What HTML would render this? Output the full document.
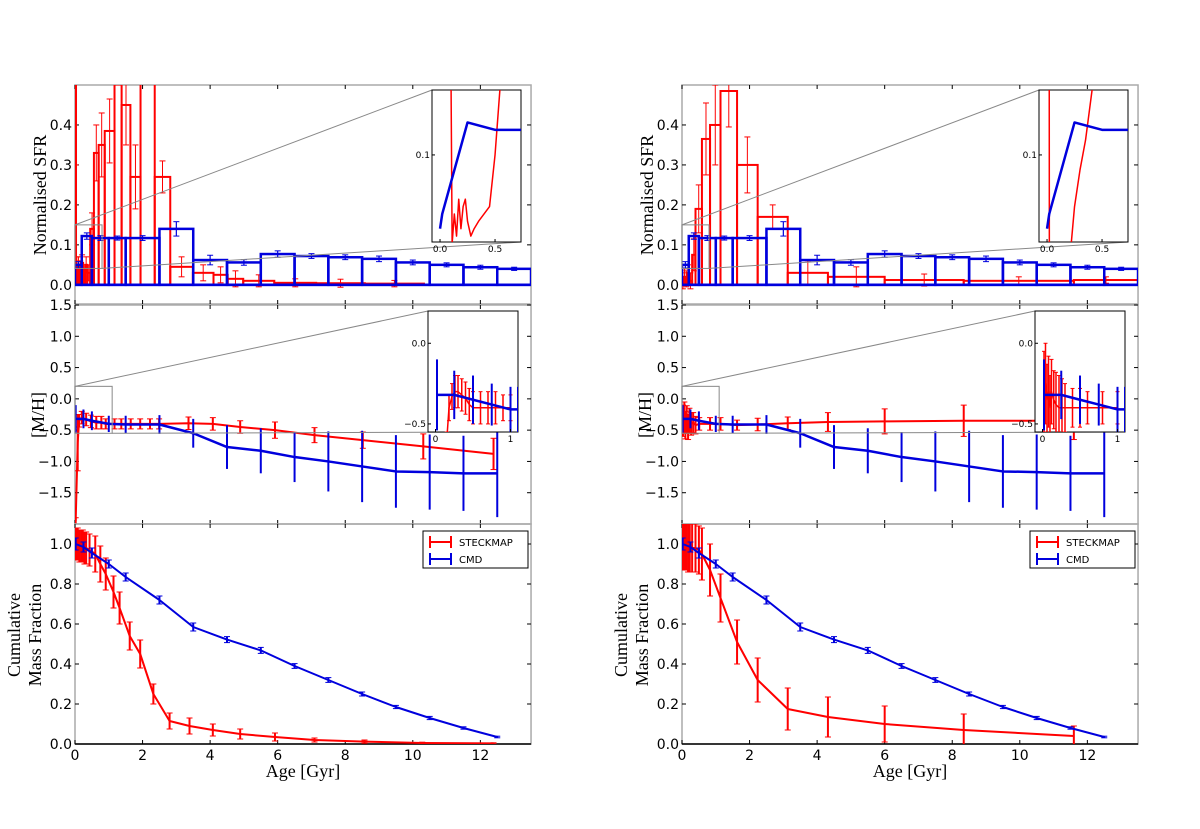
<!DOCTYPE html>
<html><head><meta charset="utf-8"><style>
html,body{margin:0;padding:0;background:#fff;width:1200px;height:829px;overflow:hidden}
svg text{font-family:"DejaVu Sans","Liberation Sans",sans-serif}
.serif{font-family:"Liberation Serif",serif}
</style></head><body>
<svg id="fig" width="1200" height="829" viewBox="0 0 1200 829" xmlns="http://www.w3.org/2000/svg"></svg>
<script>
// ---- data ----
const blueEdges=[0,0.2,0.5,1.0,1.5,2.5,3.5,4.5,5.5,6.5,7.5,8.5,9.5,10.5,11.5,12.5,13.5];
const blueSfr=[0.05,0.122,0.117,0.117,0.117,0.14,0.062,0.056,0.077,0.072,0.069,0.065,0.056,0.05,0.044,0.04];
const blueSfrErr=[0.008,0.008,0.006,0.005,0.006,0.018,0.012,0.007,0.008,0.006,0.006,0.007,0.006,0.005,0.005,0.004];
const leftRedEdges=[0,0.03,0.08,0.13,0.18,0.24,0.3,0.36,0.45,0.56,0.7,0.88,1.17,1.38,1.64,1.94,2.36,2.82,3.49,4.1,4.52,4.98,5.9,7.14,8.58,10.33];
const leftRedSfr=[0.6,0.04,0.05,0.03,0.055,0.02,0.05,0.03,0.14,0.33,0.35,0.385,0.6,0.45,0.27,0.6,0.27,0.045,0.03,0.025,0.015,0.01,0.005,0.004,0.003];
const leftRedSfrErr=[0.3,0.03,0.02,0.03,0.02,0.02,0.02,0.02,0.04,0.07,0.08,0.08,0.1,0.1,0.08,0.07,0.04,0.025,0.02,0.02,0.02,0.015,0.01,0.01,0.008];
const rightRedEdges=[0,0.05,0.1,0.15,0.2,0.3,0.4,0.59,0.83,1.14,1.63,2.24,3.13,4.32,6.0,8.34,11.6,13.5];
const rightRedSfr=[0.01,0.02,0.015,0.03,0.01,0.075,0.19,0.365,0.4,0.485,0.3,0.17,0.03,0.02,0.012,0.01,0.012];
const rightRedSfrErr=[0.02,0.02,0.02,0.02,0.02,0.04,0.06,0.09,0.1,0.09,0.07,0.03,0.03,0.025,0.015,0.01,0.008];
const blueAge=[0.02,0.25,0.5,1.0,1.5,2.5,3.5,4.5,5.5,6.5,7.5,8.5,9.5,10.5,11.5,12.5];
const blueMet=[-0.32,-0.32,-0.35,-0.4,-0.41,-0.41,-0.55,-0.77,-0.83,-0.93,-1.0,-1.08,-1.16,-1.17,-1.19,-1.19];
const blueMetErr=[0.22,0.15,0.15,0.13,0.14,0.15,0.23,0.35,0.36,0.4,0.48,0.57,0.58,0.6,0.6,0.7];
const leftRedAge=[0.02,0.08,0.12,0.2,0.33,0.47,0.63,0.78,0.91,1.17,1.37,1.65,1.93,2.22,2.49,3.36,4.08,4.89,5.92,7.09,8.52,10.31,12.39];
const leftRedMet=[-1.95,-0.7,-0.35,-0.3,-0.33,-0.36,-0.38,-0.38,-0.4,-0.4,-0.4,-0.4,-0.4,-0.4,-0.4,-0.39,-0.4,-0.45,-0.5,-0.58,-0.66,-0.76,-0.88];
const leftRedMetErr=[0.05,0.45,0.1,0.1,0.1,0.1,0.1,0.1,0.08,0.08,0.08,0.08,0.08,0.08,0.08,0.1,0.1,0.1,0.13,0.12,0.13,0.2,0.25];
const rightRedAge=[0.03,0.07,0.1,0.14,0.18,0.22,0.27,0.33,0.4,0.51,0.83,1.14,1.63,2.24,3.13,4.32,6.0,8.34,11.6];
const rightRedMet=[-0.35,-0.3,-0.42,-0.33,-0.45,-0.35,-0.4,-0.38,-0.42,-0.4,-0.4,-0.4,-0.42,-0.41,-0.39,-0.37,-0.36,-0.35,-0.35];
const rightRedMetErr=[0.25,0.25,0.22,0.22,0.2,0.2,0.18,0.16,0.14,0.1,0.1,0.1,0.08,0.1,0.1,0.15,0.2,0.25,0.3];
const blueCum=[1.0,0.985,0.955,0.9,0.835,0.72,0.585,0.522,0.468,0.39,0.32,0.25,0.185,0.13,0.08,0.035];
const blueCumErr=[0.03,0.025,0.025,0.02,0.02,0.02,0.02,0.015,0.015,0.012,0.012,0.01,0.008,0.008,0.006,0.004];
const leftRedCumAge=[0.03,0.08,0.13,0.18,0.23,0.28,0.33,0.43,0.6,0.75,0.91,1.14,1.32,1.62,1.93,2.32,2.8,3.39,4.08,4.89,5.92,7.09,8.57,10.28,12.39];
const leftRedCum=[1.0,1.0,0.99,0.99,0.99,0.98,0.98,0.97,0.95,0.9,0.85,0.76,0.68,0.54,0.45,0.25,0.115,0.09,0.07,0.05,0.035,0.02,0.012,0.005,0.003];
const leftRedCumErr=[0.08,0.08,0.08,0.08,0.08,0.08,0.08,0.08,0.09,0.09,0.08,0.08,0.08,0.07,0.07,0.05,0.04,0.04,0.03,0.025,0.02,0.01,0.008,0.004,0.003];
const rightRedCumAge=[0.03,0.08,0.13,0.18,0.23,0.3,0.4,0.5,0.59,0.83,1.14,1.63,2.24,3.13,4.32,6.0,8.34,11.6];
const rightRedCum=[0.99,0.99,0.99,0.98,0.98,0.98,0.98,0.97,0.95,0.87,0.73,0.51,0.32,0.175,0.135,0.1,0.07,0.04];
const rightRedCumErr=[0.12,0.12,0.12,0.12,0.12,0.12,0.12,0.12,0.13,0.13,0.12,0.11,0.11,0.105,0.1,0.09,0.08,0.05];
// insets
const inTopBlueX=[0.0,0.02,0.25,0.5,0.75];
const inTopBlueY=[0.05,0.06,0.122,0.117,0.117];
const inTopLeftRedX=[0.1,0.11,0.13,0.15,0.17,0.19,0.21,0.23,0.25,0.28,0.31,0.35,0.4,0.45,0.5,0.56];
const inTopLeftRedY=[0.15,0.04,0.06,0.045,0.07,0.05,0.065,0.07,0.055,0.045,0.05,0.055,0.06,0.065,0.1,0.16];
const inTopRightRedX=[0.02,0.021,0.22,0.25,0.3,0.35,0.42,0.45];
const inTopRightRedY=[0.16,0.04,0.04,0.065,0.09,0.11,0.15,0.16];
const inMidBlueX=[0.02,0.25,0.5,0.75,1.0,1.1];
const inMidBlueY=[-0.32,-0.32,-0.35,-0.38,-0.41,-0.41];
const inMidBlueErr=[0.22,0.15,0.15,0.13,0.14,0.14];
const inMidLeftRedX=[0.15,0.18,0.22,0.26,0.3,0.35,0.4,0.45,0.5,0.6,0.7,0.8,0.9,1.0];
const inMidLeftRedY=[-0.6,-0.4,-0.33,-0.3,-0.3,-0.32,-0.34,-0.38,-0.4,-0.4,-0.4,-0.4,-0.4,-0.4];
const inMidLeftRedErr=[0.05,0.08,0.08,0.1,0.1,0.1,0.1,0.1,0.1,0.1,0.1,0.1,0.08,0.08];
const inMidRightRedX=[0.02,0.04,0.06,0.08,0.1,0.12,0.15,0.18,0.22,0.26,0.3,0.4,0.5,0.6,0.8,1.0];
const inMidRightRedY=[-0.3,-0.25,-0.35,-0.3,-0.4,-0.3,-0.35,-0.38,-0.4,-0.4,-0.4,-0.4,-0.4,-0.4,-0.4,-0.4];
const inMidRightRedErr=[0.25,0.25,0.22,0.22,0.2,0.2,0.18,0.2,0.2,0.18,0.15,0.12,0.12,0.1,0.1,0.1];

const NS='http://www.w3.org/2000/svg';
const svg=document.getElementById('fig');
function mk(tag,attrs,parent){const e=document.createElementNS(NS,tag);for(const k in attrs)e.setAttribute(k,attrs[k]);(parent||svg).appendChild(e);return e;}
const RED='#ff0000',BLUE='#0000dd';
const panels={top:{y0:85,y1:304,lo:-0.048,hi:0.5},mid:{y0:305,y1:524,lo:-2.0,hi:1.5},bot:{y0:524,y1:744,lo:0,hi:1.1}};
const X=(ox,g)=>ox+75+g*33.78;
const Y=(p,v)=>p.y1-(v-p.lo)/(p.hi-p.lo)*(p.y1-p.y0);
const fmt=t=>(t<0?'\u2212':'')+Math.abs(t).toFixed(1);

function hist(g,ox,p,edges,vals,errs,col,w,ew){
  for(let i=0;i<vals.length;i++){
    const x0=X(ox,edges[i]),x1=X(ox,edges[i+1]),yt=Y(p,vals[i]),yb=Y(p,0);
    const r=mk('rect',{x:x0,y:Math.min(yt,yb),width:x1-x0,height:Math.abs(yb-yt),fill:'none',stroke:col,'stroke-width':w},g);
    
    
    const xc=(x0+x1)/2;
    mk('line',{x1:xc,x2:xc,y1:Y(p,vals[i]-errs[i]),y2:Y(p,vals[i]+errs[i]),stroke:col,'stroke-width':ew},g);
    mk('line',{x1:xc-3,x2:xc+3,y1:Y(p,vals[i]-errs[i]),y2:Y(p,vals[i]-errs[i]),stroke:col,'stroke-width':1},g);
    mk('line',{x1:xc-3,x2:xc+3,y1:Y(p,vals[i]+errs[i]),y2:Y(p,vals[i]+errs[i]),stroke:col,'stroke-width':1},g);
  }
}
function series(g,xs,ys,es,fx,fy,col,w,ew,cap,name){
  const pl=mk('polyline',{points:xs.map((x,i)=>fx(x)+','+fy(ys[i])).join(' '),fill:'none',stroke:col,'stroke-width':w,'stroke-linejoin':'round'},g);
  
  
  if(!es)return;
  xs.forEach((x,i)=>{const xc=fx(x),a=fy(ys[i]-es[i]),b=fy(ys[i]+es[i]);
    mk('line',{x1:xc,x2:xc,y1:a,y2:b,stroke:col,'stroke-width':ew},g);
    if(cap){mk('line',{x1:xc-cap,x2:xc+cap,y1:a,y2:a,stroke:col,'stroke-width':1},g);mk('line',{x1:xc-cap,x2:xc+cap,y1:b,y2:b,stroke:col,'stroke-width':1},g);}
  });
}
function axes(ox,p,ticks,name,showX){
  const g=mk('g',{});
  
  
  const xl=X(ox,0),xr=X(ox,13.5);
  mk('rect',{x:xl,y:p.y0,width:xr-xl,height:p.y1-p.y0,fill:'none',stroke:'#aaa','stroke-width':1.5},g);
  ticks.forEach(t=>{const y=Y(p,t);
    mk('line',{x1:xl,x2:xl+4,y1:y,y2:y,stroke:'#000'},g);mk('line',{x1:xr-4,x2:xr,y1:y,y2:y,stroke:'#000'},g);
    const tx=mk('text',{x:xl-3,y:y+5,'text-anchor':'end','font-size':14},g);tx.textContent=fmt(t);
    
    
  });
  [0,2,4,6,8,10,12].forEach(t=>{const x=X(ox,t);
    mk('line',{x1:x,x2:x,y1:p.y1,y2:p.y1-4,stroke:'#000'},g);mk('line',{x1:x,x2:x,y1:p.y0,y2:p.y0+4,stroke:'#000'},g);
    if(showX){const tx=mk('text',{x:x,y:p.y1+16,'text-anchor':'middle','font-size':14},g);tx.textContent=t;
      
      }
  });
  return g;
}
function clipG(id,ox,p){
  const cp=mk('clipPath',{id:id});mk('rect',{x:X(ox,0),y:p.y0,width:X(ox,13.5)-X(ox,0),height:p.y1-p.y0},cp);
  return mk('g',{'clip-path':'url(#'+id+')'});
}
function inset(box,xlo,xhi,ylo,yhi,xt,yt,draw,name){
  const fx=v=>box.x+(v-xlo)/(xhi-xlo)*box.w, fy=v=>box.y+box.h-(v-ylo)/(yhi-ylo)*box.h;
  const g=mk('g',{});
  
  
  mk('rect',{x:box.x,y:box.y,width:box.w,height:box.h,fill:'#fff',stroke:'#000','stroke-width':1},g);
  const id=name+'-clip';const cp=mk('clipPath',{id:id},g);mk('rect',{x:box.x,y:box.y,width:box.w,height:box.h},cp);
  const gi=mk('g',{'clip-path':'url(#'+id+')'},g);
  draw(gi,fx,fy);
  xt.forEach(t=>{const x=fx(t[0]);mk('line',{x1:x,x2:x,y1:box.y+box.h,y2:box.y+box.h-3,stroke:'#000'},g);
    const tx=mk('text',{x:x,y:box.y+box.h+10,'text-anchor':'middle','font-size':9},g);tx.textContent=t[1];});
  yt.forEach(t=>{const y=fy(t[0]);mk('line',{x1:box.x,x2:box.x+3,y1:y,y2:y,stroke:'#000'},g);
    const tx=mk('text',{x:box.x-2,y:y+3,'text-anchor':'end','font-size':9},g);tx.textContent=t[1];});
}
function ylabel(x,y,lines,name){
  const t=mk('text',{transform:`translate(${x},${y}) rotate(-90)`,'text-anchor':'middle','font-size':18,class:'serif'});
  
  
  lines.forEach((l,i)=>{const s=mk('tspan',{x:0,dy:i?21:0},t);s.textContent=l;});
}

function figure(ox,redEdges,redSfr,redSfrErr,redAge,redMet,redMetErr,cumAge,cum,cumErr,inTopRX,inTopRY,inMidRX,inMidRY,inMidRE,tag){
  const pt=panels.top,pm=panels.mid,pb=panels.bot;
  axes(ox,pt,[0.0,0.1,0.2,0.3,0.4],tag+'-sfr',false);
  let g=clipG(tag+'c1',ox,pt);
  hist(g,ox,pt,redEdges,redSfr,redSfrErr,RED,2,1);
  hist(g,ox,pt,blueEdges,blueSfr,blueSfrErr,BLUE,2.5,1.2);
  mk('line',{x1:X(ox,0),x2:X(ox,13.5),y1:Y(pt,0),y2:Y(pt,0),stroke:BLUE,'stroke-width':2.5},g);
  mk('rect',{x:X(ox,0),y:Y(pt,0.15),width:X(ox,0.8)-X(ox,0),height:Y(pt,0.041)-Y(pt,0.15),fill:'none',stroke:'#888','stroke-width':1});
  const tb={x:ox+432,y:90,w:89,h:152};
  mk('line',{x1:X(ox,0),y1:Y(pt,0.15),x2:tb.x,y2:tb.y,stroke:'#888'});
  mk('line',{x1:X(ox,0.8),y1:Y(pt,0.041),x2:tb.x+tb.w,y2:tb.y+tb.h,stroke:'#888'});
  inset(tb,-0.073,0.736,0.041,0.144,[[0,'0.0'],[0.5,'0.5']],[[0.1,'0.1']],(gi,fx,fy)=>{
    series(gi,inTopRX,inTopRY,null,fx,fy,RED,1.5,1,0,'inset-red-sfr');
    series(gi,inTopBlueX,inTopBlueY,null,fx,fy,BLUE,2.5,1,0,'inset-blue-sfr');
  },tag+'-sfr-inset');
  ylabel(ox+46,195,['Normalised SFR'],tag+'-sfr-y-title');
  axes(ox,pm,[1.5,1.0,0.5,0.0,-0.5,-1.0,-1.5],tag+'-met',false);
  g=clipG(tag+'c2',ox,pm);
  series(g,redAge,redMet,redMetErr,v=>X(ox,v),v=>Y(pm,v),RED,2,2,3,'red-metallicity');
  series(g,blueAge,blueMet,blueMetErr,v=>X(ox,v),v=>Y(pm,v),BLUE,2.5,2,0,'blue-metallicity');
  mk('rect',{x:X(ox,0),y:Y(pm,0.2),width:X(ox,1.1)-X(ox,0),height:Y(pm,-0.55)-Y(pm,0.2),fill:'none',stroke:'#888'});
  const mb={x:ox+428,y:311,w:90,h:121};
  mk('line',{x1:X(ox,0),y1:Y(pm,0.2),x2:mb.x,y2:mb.y,stroke:'#888'});
  mk('line',{x1:X(ox,1.1),y1:Y(pm,-0.55),x2:mb.x+mb.w,y2:mb.y+mb.h,stroke:'#888'});
  inset(mb,-0.1,1.1,-0.55,0.2,[[0,'0'],[1,'1']],[[0,'0.0'],[-0.5,'\u22120.5']],(gi,fx,fy)=>{
    series(gi,inMidRX,inMidRY,inMidRE,fx,fy,RED,1.5,1.5,2,'inset-red-met');
    series(gi,inMidBlueX,inMidBlueY,inMidBlueErr,fx,fy,BLUE,2.5,2,0,'inset-blue-met');
  },tag+'-met-inset');
  ylabel(ox+44,415,['[M/H]'],tag+'-met-y-title');
  axes(ox,pb,[0.0,0.2,0.4,0.6,0.8,1.0],tag+'-cum',true);
  mk('line',{x1:X(ox,0),x2:X(ox,13.5),y1:pb.y1,y2:pb.y1,stroke:'#000','stroke-width':1.5});
  g=clipG(tag+'c3',ox,pb);
  series(g,cumAge,cum,cumErr,v=>X(ox,v),v=>Y(pb,v),RED,2,2,3,'red-cumulative');
  series(g,blueAge,blueCum,blueCumErr,v=>X(ox,v),v=>Y(pb,v),BLUE,2,2,3,'blue-cumulative');
  ylabel(ox+20,635,['Cumulative','Mass Fraction'],tag+'-cum-y-title');
  const xt=mk('text',{x:ox+303,y:777,'text-anchor':'middle','font-size':18,class:'serif'});xt.textContent='Age [Gyr]';
  
  
  const lg=mk('g',{});
  
  
  mk('rect',{x:ox+423,y:531,width:105,height:37,fill:'#fff',stroke:'#000'},lg);
  [[RED,'STECKMAP',542],[BLUE,'CMD',559]].forEach(e=>{
    mk('line',{x1:ox+430,x2:ox+451,y1:e[2],y2:e[2],stroke:e[0],'stroke-width':2},lg);
    mk('line',{x1:ox+430,x2:ox+430,y1:e[2]-6,y2:e[2]+6,stroke:e[0],'stroke-width':2},lg);
    mk('line',{x1:ox+451,x2:ox+451,y1:e[2]-6,y2:e[2]+6,stroke:e[0],'stroke-width':2},lg);
    const t=mk('text',{x:ox+459,y:e[2]+4,'font-size':10},lg);t.textContent=e[1];
  });
}
figure(0,leftRedEdges,leftRedSfr,leftRedSfrErr,leftRedAge,leftRedMet,leftRedMetErr,leftRedCumAge,leftRedCum,leftRedCumErr,inTopLeftRedX,inTopLeftRedY,inMidLeftRedX,inMidLeftRedY,inMidLeftRedErr,'left');
figure(607,rightRedEdges,rightRedSfr,rightRedSfrErr,rightRedAge,rightRedMet,rightRedMetErr,rightRedCumAge,rightRedCum,rightRedCumErr,inTopRightRedX,inTopRightRedY,inMidRightRedX,inMidRightRedY,inMidRightRedErr,'right');
</script>
</body></html>
